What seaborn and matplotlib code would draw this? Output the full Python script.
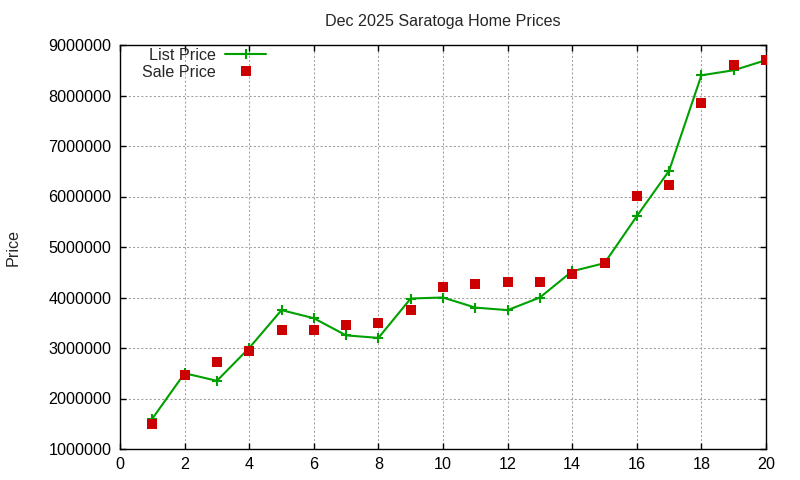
import matplotlib
matplotlib.use("Agg")
import matplotlib.pyplot as plt
from matplotlib.lines import Line2D
from matplotlib.ticker import MultipleLocator, FuncFormatter
import seaborn as sns
import pandas as pd

months = list(range(1, 21))
list_price = [1600000, 2500000, 2350000, 3000000, 3750000, 3590000, 3250000, 3200000,
              3980000, 4000000, 3800000, 3750000, 4000000, 4520000, 4680000, 5610000,
              6510000, 8400000, 8500000, 8700000]
sale_price = [1500000, 2470000, 2720000, 2940000, 3350000, 3350000, 3450000, 3500000,
              3750000, 4210000, 4270000, 4310000, 4310000, 4470000, 4690000, 6010000,
              6230000, 7850000, 8600000, 8700000]
title = "Dec 2025 Saratoga Home Prices"
ylabel = "Price"

df = pd.DataFrame({"x": months, "list": list_price, "sale": sale_price})

sns.set_theme(style="white")
plt.rcParams["font.family"] = ["Liberation Sans", "DejaVu Sans"]

fig = plt.figure(figsize=(8, 4.8), dpi=100)
ax = fig.add_axes([120/800, 1-449/480, (766-120)/800, (449-45)/480])

green = "#00a000"
red = "#cc0000"
fs = 11.6

sns.lineplot(data=df, x="x", y="list", ax=ax, color=green, linewidth=1.5,
             marker="+", markersize=6.5, markeredgewidth=1.5, markeredgecolor=green, zorder=3)
sns.scatterplot(data=df, x="x", y="sale", ax=ax, color=red, marker="s", s=42,
                linewidth=0, zorder=4)

ax.set_xlim(0, 20)
ax.set_ylim(1000000, 9000000)
ax.xaxis.set_major_locator(MultipleLocator(2))
ax.yaxis.set_major_locator(MultipleLocator(1000000))
ax.yaxis.set_major_formatter(FuncFormatter(lambda v, p: f"{int(round(v))}"))
ax.grid(True, color="#a0a0a0", linestyle=(0, (2, 2)), linewidth=0.75)
ax.set_axisbelow(True)
for s in ax.spines.values():
    s.set_color("black")
    s.set_linewidth(1.0)
ax.tick_params(direction="in", length=4.5, width=1, color="black", labelsize=fs,
               top=True, right=True, bottom=True, left=True, pad=6,
               labelcolor="black")
ax.set_xlabel("")
ax.set_ylabel(ylabel, fontsize=fs, labelpad=20)
ax.set_title(title, fontsize=fs, pad=14)

handles = [Line2D([], [], color=green, linewidth=1.5, marker="+", markersize=6.5,
                  markeredgewidth=1.5),
           Line2D([], [], color=red, marker="s", linestyle="none", markersize=6.5,
                  markeredgewidth=0)]
ax.legend(handles, ["List Price", "Sale Price"], loc="upper left",
          bbox_to_anchor=((142-120)/646, 1.0 - (48-45)/404), frameon=False,
          markerfirst=False, fontsize=fs, handlelength=2.5, borderpad=0,
          borderaxespad=0, labelspacing=0.12, handletextpad=0.6, numpoints=1)

fig.savefig("out.png", dpi=100, facecolor="white")
